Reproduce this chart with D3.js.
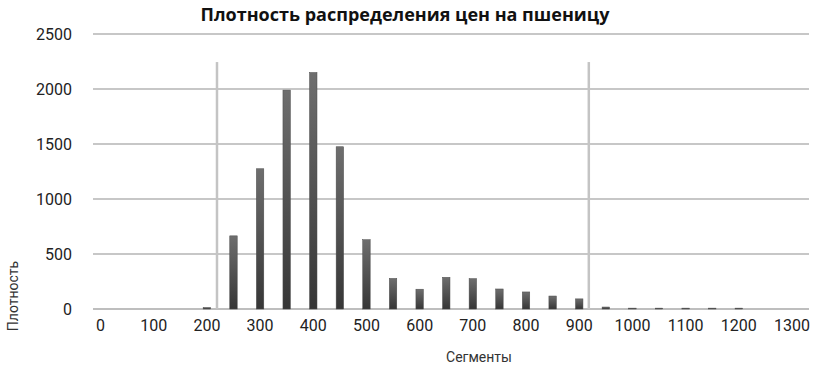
<!DOCTYPE html>
<html>
<head>
<meta charset="utf-8">
<script src="https://cdn.jsdelivr.net/npm/d3@7"></script>
<style>
  body { margin: 0; background: #fff; }
  text { font-family: Roboto, "Open Sans", sans-serif; }
</style>
</head>
<body>
<div id="chart"></div>
<script>
// Segments (price bins) and density values
const segments = [0, 50, 100, 150, 200, 250, 300, 350, 400, 450, 500, 550, 600, 650,
                  700, 750, 800, 850, 900, 950, 1000, 1050, 1100, 1150, 1200, 1250, 1300];
const density = [0, 0, 0, 0, 14, 665, 1275, 1990, 2150, 1475, 630, 278, 180, 288,
                 276, 182, 155, 118, 92, 18, 8, 8, 8, 8, 8, 0, 0];
const xTicks = [0, 100, 200, 300, 400, 500, 600, 700, 800, 900, 1000, 1100, 1200, 1300];
const yTicks = [0, 500, 1000, 1500, 2000, 2500];
// vertical marker lines (interval bounds)
const bounds = [219, 918];
const boundTop = 2245;

const width = 814, height = 368;

const svg = d3.select("#chart").append("svg")
    .attr("width", width)
    .attr("height", height);

const xScale = d3.scaleLinear()
    .domain([0, 1300])
    .range([100.5, 792]);

const yScale = d3.scaleLinear()
    .domain([0, 2500])
    .range([309, 34]);

const gridLeft = 93, gridRight = 809;

// Gradient for bars
const defs = svg.append("defs");
const grad = defs.append("linearGradient")
    .attr("id", "barGrad")
    .attr("x1", 0).attr("y1", 0).attr("x2", 0).attr("y2", 1);
grad.append("stop").attr("offset", "0%").attr("stop-color", "#6e6e6e");
grad.append("stop").attr("offset", "100%").attr("stop-color", "#363636");

// Horizontal grid lines
svg.append("g")
    .selectAll("line")
    .data(yTicks)
    .join("line")
    .attr("x1", gridLeft)
    .attr("x2", gridRight)
    .attr("y1", d => yScale(d))
    .attr("y2", d => yScale(d))
    .attr("stroke", d => d === 0 ? "#a8a8a8" : "#b4b4b4")
    .attr("stroke-width", 1.5);

// Y tick labels
svg.append("g")
    .selectAll("text")
    .data(yTicks)
    .join("text")
    .attr("x", 72)
    .attr("y", d => yScale(d) + 6)
    .attr("text-anchor", "end")
    .attr("font-size", 16)
    .attr("fill", "#222")
    .text(d => d);

// X tick labels
svg.append("g")
    .selectAll("text")
    .data(xTicks)
    .join("text")
    .attr("x", d => xScale(d))
    .attr("y", 331)
    .attr("text-anchor", "middle")
    .attr("font-size", 16)
    .attr("fill", "#222")
    .text(d => d);

// Vertical bound lines
svg.append("g")
    .selectAll("line")
    .data(bounds)
    .join("line")
    .attr("x1", d => xScale(d))
    .attr("x2", d => xScale(d))
    .attr("y1", yScale(boundTop))
    .attr("y2", yScale(0))
    .attr("stroke", "#c4c4c4")
    .attr("stroke-width", 2.5);

// Bars
const barW = (xScale(50) - xScale(0)) * 0.28;
svg.append("g")
    .selectAll("rect")
    .data(segments.map((s, i) => ({seg: s, val: density[i]})).filter(d => d.val > 0))
    .join("rect")
    .attr("x", d => xScale(d.seg) - barW / 2)
    .attr("y", d => yScale(d.val))
    .attr("width", barW)
    .attr("height", d => yScale(0) - yScale(d.val))
    .attr("fill", "url(#barGrad)")
    .attr("stroke", "#4a4a4a")
    .attr("stroke-width", 0.5);

// Title
svg.append("text")
    .attr("x", 405)
    .attr("y", 21)
    .attr("text-anchor", "middle")
    .attr("font-size", 18)
    .attr("font-weight", "bold")
    .attr("fill", "#111")
    .style("font-family", "'Open Sans', sans-serif")
    .text("Плотность распределения цен на пшеницу");

// Axis titles
svg.append("text")
    .attr("transform", "translate(18,296) rotate(-90)")
    .attr("text-anchor", "middle")
    .attr("font-size", 14)
    .attr("fill", "#333")
    .text("Плотность");

svg.append("text")
    .attr("x", 479)
    .attr("y", 362)
    .attr("text-anchor", "middle")
    .attr("font-size", 14)
    .attr("fill", "#333")
    .text("Сегменты");
</script>
</body>
</html>
